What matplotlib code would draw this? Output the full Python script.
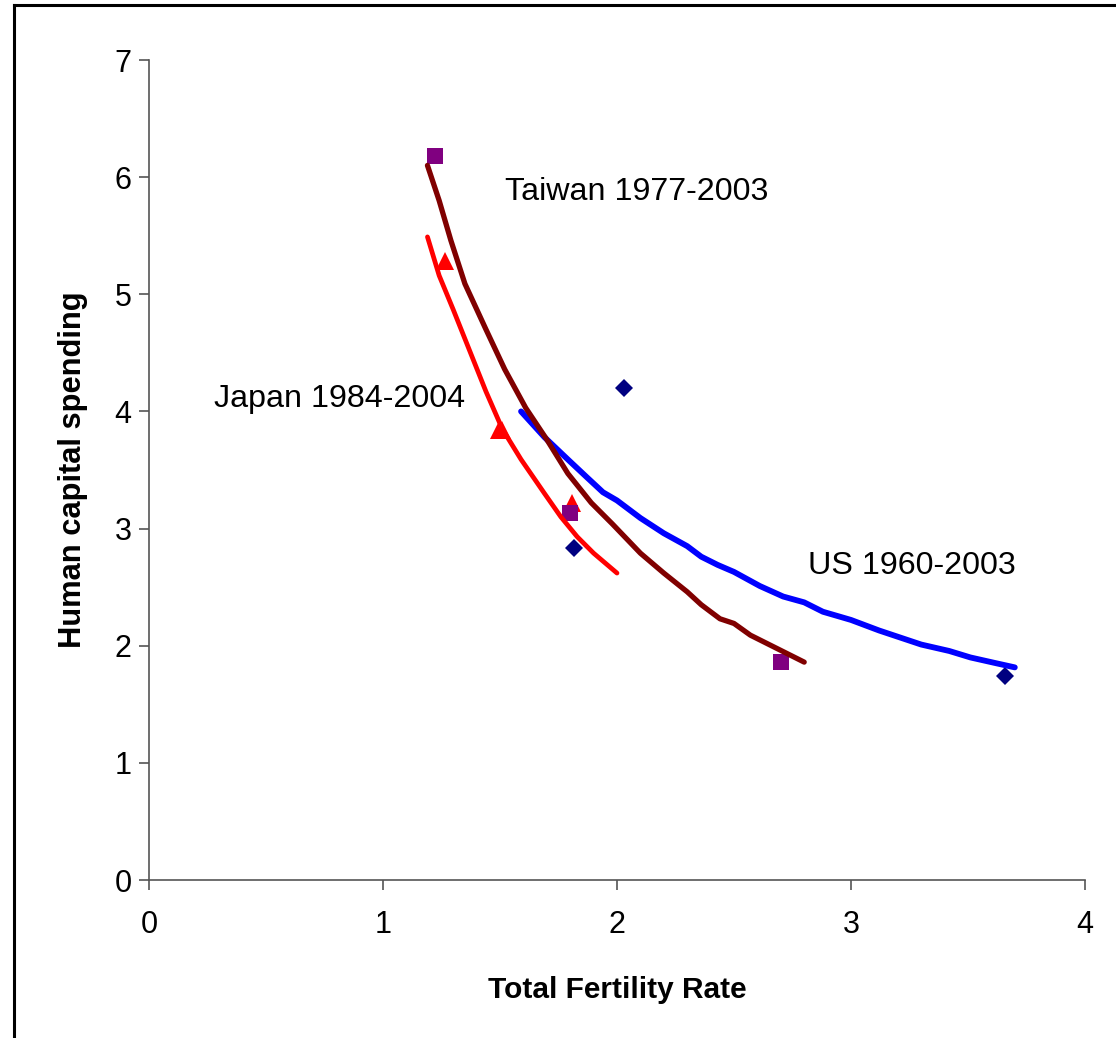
import matplotlib
matplotlib.use("Agg")
import matplotlib.pyplot as plt
from matplotlib.lines import Line2D

plt.rcParams['font.family'] = ['Liberation Sans', 'DejaVu Sans']

# ---- data ----
us_tfr = [2.03, 1.815, 3.656]
us_hc = [4.20, 2.83, 1.742]

japan_tfr = [1.265, 1.495, 1.507, 1.806]
japan_hc = [5.28, 3.84, 3.84, 3.22]

taiwan_tfr = [1.224, 1.80, 2.699]
taiwan_hc = [6.18, 3.13, 1.863]

us_fit_x = [1.59, 1.69, 1.79, 1.87, 1.94, 2.00, 2.10, 2.20, 2.30, 2.36, 2.43, 2.50,
            2.61, 2.71, 2.80, 2.88, 3.00, 3.12, 3.30, 3.42, 3.51, 3.61, 3.70]
us_fit_y = [4.00, 3.78, 3.59, 3.44, 3.31, 3.24, 3.09, 2.96, 2.85, 2.76, 2.69, 2.63,
            2.51, 2.42, 2.37, 2.29, 2.22, 2.13, 2.01, 1.955, 1.90, 1.855, 1.815]

japan_fit_x = [1.19, 1.24, 1.30, 1.35, 1.40, 1.44, 1.51, 1.59, 1.69, 1.76, 1.83, 1.90, 2.00]
japan_fit_y = [5.49, 5.16, 4.87, 4.62, 4.37, 4.17, 3.85, 3.59, 3.30, 3.10, 2.93, 2.79, 2.62]

taiwan_fit_x = [1.19, 1.24, 1.29, 1.35, 1.44, 1.52, 1.61, 1.70, 1.79, 1.89, 1.98, 2.10,
                2.20, 2.30, 2.36, 2.44, 2.50, 2.57, 2.64, 2.71, 2.80]
taiwan_fit_y = [6.10, 5.80, 5.46, 5.09, 4.70, 4.36, 4.03, 3.76, 3.47, 3.22, 3.04, 2.79,
                2.62, 2.46, 2.35, 2.23, 2.19, 2.09, 2.02, 1.95, 1.86]

labels = ["Taiwan 1977-2003", "Japan 1984-2004", "US 1960-2003"]
label_pos = [(1.52, 5.87), (0.278, 4.11), (2.816, 2.68)]

x_ticks = [0, 1, 2, 3, 4]
y_ticks = [0, 1, 2, 3, 4, 5, 6, 7]

# ---- figure ----
W, H = 1116, 1038
fig = plt.figure(figsize=(W / 100, H / 100), dpi=100)
ax = fig.add_axes([149 / W, 1 - 880 / H, (1085 - 149) / W, (880 - 60) / H])

# outer frame (only left and top visible)
fig.add_artist(Line2D([14 / W, 14 / W], [0, 1 - 5 / H], transform=fig.transFigure,
                      color='black', lw=2.2, solid_capstyle='projecting'))
fig.add_artist(Line2D([14 / W, 1.0], [1 - 5 / H, 1 - 5 / H], transform=fig.transFigure,
                      color='black', lw=2.2, solid_capstyle='projecting'))

# markers
ax.plot(us_tfr, us_hc, linestyle='none', marker='D', ms=9.2, color='#000080',
        markeredgewidth=0, zorder=2)
ax.plot(japan_tfr, japan_hc, linestyle='none', marker='^', ms=13, color='#FF0000',
        markeredgewidth=0, zorder=2)
ax.plot(taiwan_tfr, taiwan_hc, linestyle='none', marker='s', ms=11.3, color='#800080',
        markeredgewidth=0, zorder=2.5)

# fitted curves
ax.plot(us_fit_x, us_fit_y, color='#0000FF', lw=4.2, solid_capstyle='round',
        solid_joinstyle='round', zorder=3)
ax.plot(japan_fit_x, japan_fit_y, color='#FF0000', lw=3.4, solid_capstyle='round',
        solid_joinstyle='round', zorder=3.1)
ax.plot(taiwan_fit_x, taiwan_fit_y, color='#800000', lw=3.8, solid_capstyle='round',
        solid_joinstyle='round', zorder=3.2)

for txt, (lx, ly) in zip(labels, label_pos):
    ax.text(lx, ly, txt, fontsize=23.2, ha='left', va='center', color='black')

ax.set_xlim(0, 4)
ax.set_ylim(0, 7)
ax.set_xticks(x_ticks)
ax.set_yticks(y_ticks)
ax.set_xticklabels([str(t) for t in x_ticks])
ax.set_yticklabels([str(t) for t in y_ticks])

for s in ['top', 'right']:
    ax.spines[s].set_visible(False)
for s in ['left', 'bottom']:
    ax.spines[s].set_color('#555555')
    ax.spines[s].set_linewidth(1.2)
ax.tick_params(direction='out', length=7.5, width=1.2, color='#555555',
               labelsize=22, labelcolor='black')
ax.tick_params(axis='x', pad=14)
ax.tick_params(axis='y', pad=5)

ax.set_xlabel('Total Fertility Rate', fontsize=21.5, fontweight='bold', labelpad=26)
ax.set_ylabel('Human capital spending', fontsize=22.2, fontweight='bold', labelpad=19)

fig.savefig('out.png', dpi=100, facecolor='white')
